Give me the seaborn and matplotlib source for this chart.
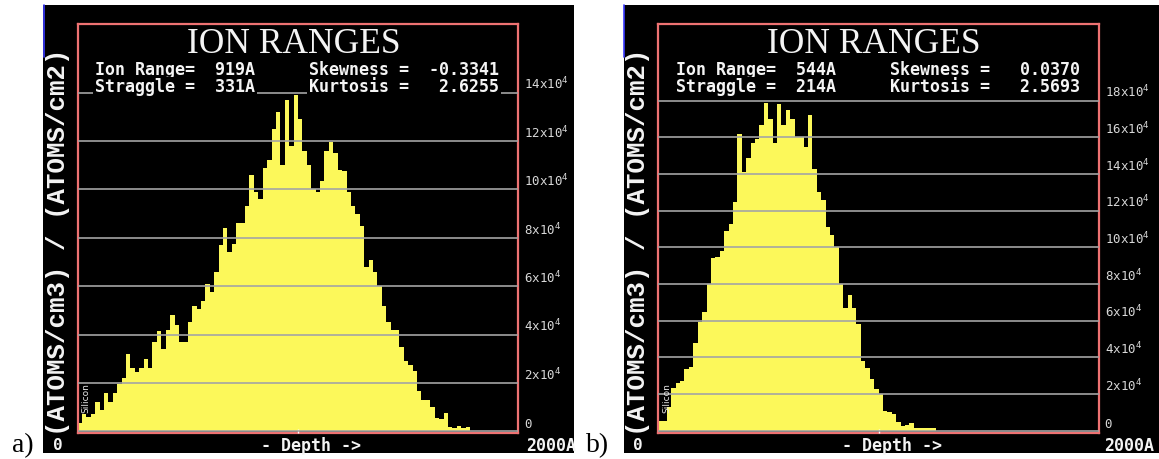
import numpy as np
import matplotlib
matplotlib.use("Agg")
import matplotlib.pyplot as plt
import seaborn as sns
from matplotlib.patches import Rectangle
from matplotlib.lines import Line2D

# ---------------- data ----------------
# bin centres (Angstrom), 20 A bins from 0 to 2000 A
depth_bins = np.arange(10, 2000, 20)

# ion concentration, units of 1e4 (ATOMS/cm3)/(ATOMS/cm2)
conc_a = [0.35, 0.7, 0.6, 0.7, 1.2, 0.9, 1.6, 1.2, 1.6, 1.95,
          2.2, 3.2, 2.6, 2.45, 2.6, 3.0, 2.6, 3.7, 4.15, 3.4,
          4.2, 4.8, 4.4, 3.7, 3.7, 4.5, 5.2, 5.05, 5.4, 6.1,
          5.75, 6.6, 7.7, 8.4, 7.4, 7.75, 8.6, 8.6, 9.3, 10.6,
          9.9, 9.6, 10.9, 11.2, 12.5, 13.2, 11.0, 13.7, 11.8, 13.9,
          12.9, 11.6, 11.0, 10.0, 9.9, 10.35, 11.6, 11.95, 11.5, 10.8,
          10.75, 9.9, 9.3, 8.97, 8.5, 6.8, 7.1, 6.6, 6.0, 5.2,
          4.5, 4.2, 4.2, 3.5, 2.9, 2.75, 2.5, 1.65, 1.3, 1.3,
          1.0, 0.55, 0.5, 0.75, 0.17, 0.15, 0.2, 0.15, 0.18, 0.0,
          0, 0, 0, 0, 0, 0, 0, 0, 0, 0]

conc_b = [0.55, 0.55, 1.3, 2.35, 2.6, 2.7, 3.35, 3.5, 4.8, 5.95,
          6.5, 8.0, 9.4, 9.5, 9.8, 10.9, 11.3, 12.5, 16.2, 14.1,
          14.9, 15.7, 15.9, 16.7, 17.9, 17.0, 15.7, 17.8, 16.7, 17.5,
          17.0, 16.0, 16.0, 15.5, 17.2, 14.3, 13.0, 12.6, 11.1, 10.7,
          10.0, 8.0, 6.7, 7.4, 6.7, 5.8, 3.8, 3.4, 2.8, 2.3,
          2.0, 1.1, 1.0, 0.9, 0.5, 0.27, 0.3, 0.4, 0.13, 0.13,
          0.13, 0.13, 0.13, 0, 0, 0, 0, 0, 0, 0,
          0, 0, 0, 0, 0, 0, 0, 0, 0, 0,
          0, 0, 0, 0, 0, 0, 0, 0, 0, 0,
          0, 0, 0, 0, 0, 0, 0, 0, 0, 0]

ticks_a = [0, 2, 4, 6, 8, 10, 12, 14]
ticks_b = [0, 2, 4, 6, 8, 10, 12, 14, 16, 18]

stats_a = {"range": "919A", "straggle": "331A", "skew": "-0.3341", "kurt": "2.6255"}
stats_b = {"range": "544A", "straggle": "214A", "skew": "0.0370", "kurt": "2.5693"}

title = "ION RANGES"
ylabel = "(ATOMS/cm3) / (ATOMS/cm2)"
xlabel = "- Depth ->"
x_start, x_end = "0", "2000A"
target = "Silicon"

# ---------------- style ----------------
sns.set_style("dark")
W, H = 1159, 459
fig = plt.figure(figsize=(W / 100, H / 100), dpi=100)
fig.patch.set_facecolor("white")


def fx(x):
    return x / W


def fy(y):
    return 1 - y / H


YELLOW = "#fcf85a"
GRID = "#a4a4a4"
FRAME = "#ee7272"
WHITE = "#f4f4f4"
MONO = "DejaVu Sans Mono"
SERIF = "Liberation Serif"

panels = [
    dict(off=0.0, vals=conc_a, ticks=ticks_a, ylim=(-0.05, 16.84), stats=stats_a,
         tag="a)", tagx=12, black=(43.3, 573.5), endx=526),
    dict(off=580.5, vals=conc_b, ticks=ticks_b, ylim=(-0.1, 22.19), stats=stats_b,
         tag="b)", tagx=586, black=(623.5, 1159), endx=1104),
]

for p in panels:
    o = p["off"]
    bx0, bx1 = p["black"]
    # black screen background
    fig.add_artist(Rectangle((fx(bx0), fy(453)), (bx1 - bx0) / W, (453 - 5) / H,
                             transform=fig.transFigure, facecolor="black",
                             edgecolor="none", zorder=-5))
    fig.add_artist(Line2D([fx(bx0 + 0.6)] * 2, [fy(5), fy(57)], transform=fig.transFigure,
                          color="#3a3aff", lw=1.2, zorder=-4))

    ax = fig.add_axes([fx(77.5 + o), fy(432.5), 441 / W, (432.5 - 24) / H])
    ax.set_facecolor("black")
    sns.histplot(x=depth_bins, weights=p["vals"], binwidth=20, binrange=(0, 2000),
                 element="step", fill=True, color=YELLOW, alpha=1, linewidth=0, ax=ax)
    ax.set_xlim(0, 2000)
    ax.set_ylim(*p["ylim"])
    ax.set_xlabel("")
    ax.set_ylabel("")

    ax.set_yticks(p["ticks"])
    ax.set_yticklabels(["0" if t == 0 else f"{t}x10$^4$" for t in p["ticks"]])
    ax.yaxis.tick_right()
    ax.tick_params(axis="y", length=0, pad=4, labelsize=9, labelcolor="#d8d8d8")
    for lb in ax.get_yticklabels():
        lb.set_va("bottom")
        lb.set_fontfamily(MONO)
    ax.grid(False)
    ax.grid(axis="y", color=GRID, lw=1.2)
    ax.set_axisbelow(False)
    ax.set_xticks([1000])
    ax.set_xticklabels([])
    ax.tick_params(axis="x", direction="in", length=3, color="white", width=1, bottom=True)
    for s in ax.spines.values():
        s.set_visible(True)
        s.set_color(FRAME)
        s.set_linewidth(1.6)

    # texts
    fig.text(fx(293.5 + o), fy(53.3), title, ha="center", va="baseline",
             family=SERIF, fontsize=25.5, color=WHITE)
    st = p["stats"]
    box = dict(facecolor="black", edgecolor="none", pad=1.5)
    fig.text(fx(95 + o), fy(75), f"Ion Range=  {st['range']}", family=MONO,
             weight="bold", fontsize=12, color=WHITE, va="baseline", bbox=box)
    fig.text(fx(95 + o), fy(92.5), f"Straggle =  {st['straggle']}", family=MONO,
             weight="bold", fontsize=12, color=WHITE, va="baseline", bbox=box)
    fig.text(fx(309 + o), fy(75), f"Skewness ={st['skew']:>9}", family=MONO,
             weight="bold", fontsize=12, color=WHITE, va="baseline", bbox=box)
    fig.text(fx(309 + o), fy(92.5), f"Kurtosis ={st['kurt']:>9}", family=MONO,
             weight="bold", fontsize=12, color=WHITE, va="baseline", bbox=box)

    fig.text(fx(58 + o), fy(242), ylabel, rotation=90, ha="center", va="center",
             family="Liberation Mono", weight="bold", fontsize=18.5, color=WHITE)
    fig.text(fx(86 + o), fy(398), target, rotation=90, ha="center", va="center",
             family="DejaVu Sans", fontsize=6.5, color="#e8e8e8")

    fig.text(fx(57.5 + o), fy(446), x_start, ha="center", va="center", family=MONO,
             weight="bold", fontsize=11.5, color=WHITE)
    fig.text(fx(311 + o), fy(446), xlabel, ha="center", va="center", family=MONO,
             weight="bold", fontsize=12, color=WHITE)
    fig.text(fx(p["endx"]), fy(446), x_end, ha="left", va="center", family=MONO,
             weight="bold", fontsize=12, color=WHITE, zorder=-4.5)

    fig.text(fx(p["tagx"]), fy(452), p["tag"], ha="left", va="baseline",
             family=SERIF, fontsize=20, color="black")

fig.savefig("out.png", dpi=100, facecolor="white")
